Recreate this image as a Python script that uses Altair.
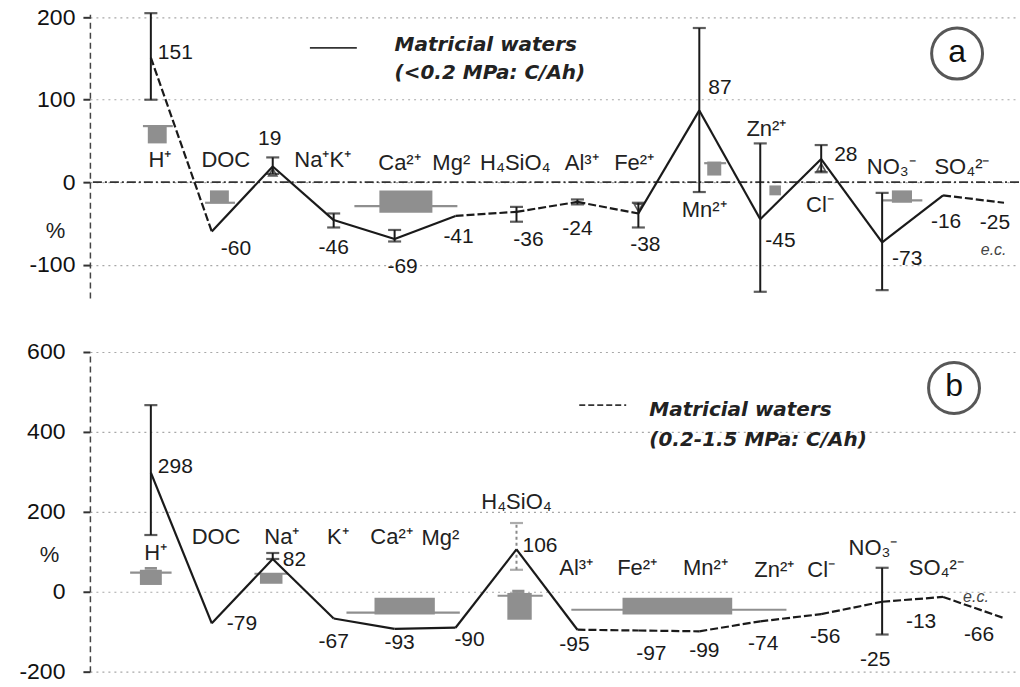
import altair as alt
import pandas as pd

# ---------------- data ----------------
# relative change (%) of each species, panel a and panel b
change_a = [151, -60, 19, -46, -69, -41, -36, -24, -38, 87, -45, 28, -73, -16, -25]
change_b = [298, -79, 82, -67, -93, -90, 106, -95, -97, -99, -74, -56, -25, -13, -66]

# error bars: species index, low, high
err_a_idx = [0, 2, 3, 4, 6, 7, 8, 9, 10, 11, 12]
err_a_lo = [100, 10, -55, -72, -48, -27, -55, -12, -133, 12, -131]
err_a_hi = [205, 30, -38, -58, -30, -21, -25, 187, 47, 45, -13]
err_b_idx = [0, 2, 6, 12]
err_b_lo = [142, 82, 55, -107]
err_b_hi = [467, 97, 172, 60]

# open triangle markers under some points of panel a: species index, value, shape
tri_a_idx = [2, 8, 11]
tri_a_v = [12, -31, 18]
tri_a_shape = ["triangle-up", "triangle-down", "triangle-up"]

# grey reference blocks: x from/to (species index units), value low/high
blk_a_x0 = [-0.05, 0.97, 3.75, 9.13, 10.15, 12.16]
blk_a_x1 = [0.26, 1.28, 4.62, 9.36, 10.34, 12.49]
blk_a_lo = [47, -25, -37, 8, -16, -25]
blk_a_hi = [69, -10, -10, 25, -4, -10]
brim_a_x0 = [-0.13, 0.89, 3.34, 9.08, 12.0]
brim_a_x1 = [0.36, 1.38, 5.03, 9.44, 12.66]
brim_a_v = [68, -25, -29, 23, -22]

blk_b_x0 = [-0.18, 1.79, 3.67, 5.85, 7.74, -0.1, 5.93]
blk_b_x1 = [0.18, 2.16, 4.66, 6.25, 9.54, 0.1, 6.13]
blk_b_lo = [17, 20, -57, -70, -57, 55, -3]
blk_b_hi = [55, 47, -15, -3, -15, 62, 5]
brim_b_x0 = [-0.34, 1.7, 3.21, 5.69, 6.9]
brim_b_x1 = [0.34, 2.25, 5.07, 6.43, 10.43]
brim_b_v = [48, 45, -52, -10, -45]

# species names written on each panel
names_a = ["H⁺", "DOC", "Na⁺K⁺", "Ca²⁺", "Mg²", "H₄SiO₄", "Al³⁺", "Fe²⁺",
           "Mn²⁺", "Zn²⁺", "Cl⁻", "NO₃⁻", "SO₄²⁻", "e.c."]
names_b = ["H⁺", "DOC", "Na⁺", "K⁺", "Ca²⁺", "Mg²", "H₄SiO₄", "Al³⁺", "Fe²⁺",
           "Mn²⁺", "Zn²⁺", "Cl⁻", "NO₃⁻", "SO₄²⁻", "e.c."]

# ---------------- placement ----------------
names_a_x = [0.15, 1.23, 2.82, 4.08, 4.93, 5.98, 7.07, 7.93, 9.08, 10.1, 10.98, 12.15, 13.31, 13.83]
names_a_y = [27, 27, 27, 23, 23, 23, 23, 23, -34, 65, -28, 18, 18, -82]
names_b_x = [0.08, 1.07, 2.15, 3.07, 3.95, 4.75, 6.0, 6.98, 7.98, 9.1, 10.23, 11.0, 11.85, 12.89, 13.54]
names_b_y = [97, 137, 137, 137, 137, 135, 225, 60, 60, 60, 55, 55, 110, 60, -12]

# value-label pixel offsets from each point (dx, dy, align)
lab_a_dx = [7, 9, -3, 0, 8, 3, 12, 0, 7, 9, 5, 13, 10, 3, -9]
lab_a_dy = [-5, 17, -28, 28, 28, 21, 28, 27, 32, -22, 22, -4, 17, 27, 20]
lab_a_al = ["left", "left", "center", "center", "center", "center", "center", "center",
            "center", "left", "left", "left", "left", "center", "center"]
lab_b_dx = [7, 15, 10, 0, 5, 14, 6, -3, 13, 5, 3, 4, -7, -22, -25]
lab_b_dy = [-6, 1, 1, 23, 14, 12, -3, 15, 24, 20, 23, 23, 58, 25, 17]
lab_b_al = ["left", "left", "left", "center", "center", "center", "left", "center",
            "center", "center", "center", "center", "center", "center", "center"]

dash_a = [1, 0, 0, 0, 0, 1, 1, 1, 0, 0, 0, 0, 0, 1]
dash_b = [0, 0, 0, 0, 0, 0, 0, 1, 1, 1, 1, 1, 1, 1]

W = 930
X_DOM = [-1, 14.246]
H_A, Y_DOM_A = 284, [-140.6, 203.6]
H_B, Y_DOM_B = 320, [-200, 600]
PX_X = W / (X_DOM[1] - X_DOM[0])

FONT = "Liberation Sans"
GREY = "#8f8f8f"
INK = "#1a1a1a"


def build_panel(vals, names, nx, ny, ldx, ldy, lal, dashed, e_idx, e_lo, e_hi,
                bx0, bx1, blo, bhi, rx0, rx1, rv, height, ydom, ticks,
                legend_sub, legend_dash, legend_xy, letter, letter_xy, pct_y, pct_x,
                zero_line, e_styles, label_pad, tri=None):
    px_y = height / (ydom[1] - ydom[0])
    xs = alt.Scale(domain=X_DOM, nice=False, zero=False)
    ys = alt.Scale(domain=ydom, nice=False, zero=False)

    yaxis = alt.Axis(
        values=ticks, labelExpr="datum.value + ''", labelFont=FONT, labelFontSize=23,
        labelColor="#111", labelPadding=label_pad, tickSize=7, tickColor="#333", tickWidth=2,
        domainColor="#444", domainDash=[6, 4], domainWidth=1.5,
        grid=True, gridDash=[2, 4], gridColor="#a8a8a8", gridWidth=1.2,
        title="%", titleAngle=0, titleX=pct_x, titleY=pct_y, titleAlign="center",
        titleBaseline="middle", titleFont=FONT, titleFontSize=22, titleFontWeight="normal",
        titleColor="#222", minExtent=90, maxExtent=90,
    )

    def X(f):
        return alt.X(f, type="quantitative", scale=xs, axis=None)

    def Y(f):
        return alt.Y(f, type="quantitative", scale=ys, axis=yaxis)

    n = len(vals)
    pts = pd.DataFrame({"x": list(range(n)), "v": vals})

    layers = [alt.Chart(pts).mark_point(opacity=0).encode(x=X("x"), y=Y("v"))]

    if zero_line:
        zl = alt.Chart(pd.DataFrame({"v": [0]})).mark_rule(
            color="#333", strokeWidth=1.6, strokeDash=[9, 3, 2, 3]).encode(y=Y("v"))
        layers.append(zl)

    # grey blocks and brims
    blk = pd.DataFrame({"x0": bx0, "x1": bx1, "v": blo, "hi": bhi})
    layers.append(alt.Chart(blk).mark_rect(color=GREY).encode(
        x=X("x0"), x2="x1:Q", y=Y("v"), y2="hi:Q"))
    brim = pd.DataFrame({"x0": rx0, "x1": rx1, "v": rv})
    layers.append(alt.Chart(brim).mark_rule(color=GREY, strokeWidth=2.2).encode(
        x=X("x0"), x2="x1:Q", y=Y("v")))

    # error bars
    col = alt.Color("s:N", scale=alt.Scale(domain=["k", "g"], range=[INK, "#8a8a8a"]), legend=None)
    eb = pd.DataFrame({"x": e_idx, "v": e_lo, "hi": e_hi, "s": e_styles})
    layers.append(alt.Chart(eb[eb["s"] == "k"]).mark_rule(strokeWidth=2, color=INK).encode(
        x=X("x"), y=Y("v"), y2="hi:Q"))
    if (eb["s"] == "g").any():
        layers.append(alt.Chart(eb[eb["s"] == "g"]).mark_rule(
            strokeWidth=2, color="#8a8a8a", strokeDash=[3, 3]).encode(x=X("x"), y=Y("v"), y2="hi:Q"))
    caps = pd.DataFrame({"x": e_idx * 2, "v": e_lo + e_hi, "s": e_styles * 2})
    layers.append(alt.Chart(caps).mark_point(shape="stroke", size=170, strokeWidth=2.2, filled=False).encode(
        x=X("x"), y=Y("v"), color=col))

    if tri is not None:
        tdf = pd.DataFrame({"x": tri[0], "v": tri[1], "sh": tri[2]})
        layers.append(alt.Chart(tdf).mark_point(filled=False, size=70, strokeWidth=1.6, color=INK).encode(
            x=X("x"), y=Y("v"),
            shape=alt.Shape("sh:N", scale=alt.Scale(domain=["triangle-up", "triangle-down"],
                                                    range=["triangle-up", "triangle-down"]), legend=None)))

    # connecting line, segment by segment (solid and dashed stretches)
    seg = pd.DataFrame({
        "x": list(range(n - 1)), "x2": list(range(1, n)),
        "v": vals[:-1], "v2": vals[1:],
        "d": dashed,
    })
    layers.append(alt.Chart(seg[seg["d"] == 0]).mark_rule(color=INK, strokeWidth=2.2).encode(
        x=X("x"), x2="x2:Q", y=Y("v"), y2="v2:Q"))
    layers.append(alt.Chart(seg[seg["d"] == 1]).mark_rule(
        color=INK, strokeWidth=2.2, strokeDash=[8, 3]).encode(
        x=X("x"), x2="x2:Q", y=Y("v"), y2="v2:Q"))

    # value labels
    lab = pd.DataFrame({
        "x": [i + d / PX_X for i, d in enumerate(ldx)],
        "v": [vals[i] - ldy[i] / px_y for i in range(n)],
        "t": [str(v) for v in vals],
        "al": lal,
    })
    for al in ["left", "center"]:
        layers.append(alt.Chart(lab[lab["al"] == al]).mark_text(
            font=FONT, fontSize=21, color=INK, align=al, baseline="middle").encode(
            x=X("x"), y=Y("v"), text="t:N"))

    # species names
    nm = pd.DataFrame({"x": nx, "v": ny, "t": names})
    big = nm[nm["t"] != "e.c."]
    small = nm[nm["t"] == "e.c."]
    layers.append(alt.Chart(big).mark_text(
        font=FONT, fontSize=22, color="#222", align="center", baseline="middle").encode(
        x=X("x"), y=Y("v"), text="t:N"))
    layers.append(alt.Chart(small).mark_text(
        font=FONT, fontSize=16, color="#444", align="center", baseline="middle", fontStyle="italic").encode(
        x=X("x"), y=Y("v"), text="t:N"))

    # legend entry
    (lx0, lx1, lv, tx, tv1, tv2) = legend_xy
    layers.append(alt.Chart(pd.DataFrame({"x": [lx0], "x2": [lx1], "v": [lv]})).mark_rule(
        color="#333", strokeWidth=1.8, strokeDash=legend_dash).encode(x=X("x"), x2="x2:Q", y=Y("v")))
    leg = pd.DataFrame({"x": [tx, tx], "v": [tv1, tv2], "t": ["Matricial waters", legend_sub]})
    layers.append(alt.Chart(leg).mark_text(
        font="DejaVu Sans", fontSize=20, fontStyle="italic", fontWeight="bold", color="#222",
        align="left", baseline="middle").encode(x=X("x"), y=Y("v"), text="t:N"))

    # panel letter in a circle
    lt = pd.DataFrame({"x": [letter_xy[0]], "v": [letter_xy[1]], "t": [letter]})
    layers.append(alt.Chart(lt).mark_point(shape="circle", size=2600, filled=False,
                                          stroke="#111", strokeWidth=3).encode(x=X("x"), y=Y("v")))
    layers.append(alt.Chart(lt).mark_text(font=FONT, fontSize=32, color="#111", baseline="middle",
                                         dy=-2).encode(x=X("x"), y=Y("v"), text="t:N"))

    return alt.layer(*layers).properties(width=W, height=height)


panel_a = build_panel(
    change_a, names_a, names_a_x, names_a_y, lab_a_dx, lab_a_dy, lab_a_al, dash_a,
    err_a_idx, err_a_lo, err_a_hi, blk_a_x0, blk_a_x1, blk_a_lo, blk_a_hi,
    brim_a_x0, brim_a_x1, brim_a_v, H_A, Y_DOM_A, [-100, 0, 100, 200],
    "(<0.2 MPa: C/Ah)", [1, 0], (2.61, 3.38, 163, 4.0, 166, 132),
    "a", (13.23, 156), 216, -35, True, ["k"] * len(err_a_idx), 8,
    tri=(tri_a_idx, tri_a_v, tri_a_shape))

panel_b = build_panel(
    change_b, names_b, names_b_x, names_b_y, lab_b_dx, lab_b_dy, lab_b_al, dash_b,
    err_b_idx, err_b_lo, err_b_hi, blk_b_x0, blk_b_x1, blk_b_lo, blk_b_hi,
    brim_b_x0, brim_b_x1, brim_b_v, H_B, Y_DOM_B, [-200, 0, 200, 400, 600],
    "(0.2-1.5 MPa: C/Ah)", [6, 3], (7.03, 7.8, 467, 8.18, 455, 380),
    "b", (13.18, 510), 203, -41, False, ["k", "k", "g", "k"], 18)

chart = alt.vconcat(panel_a, panel_b, spacing=43).properties(
    padding={"left": 0, "top": 5, "right": 0, "bottom": 0},
    background="white",
).configure_view(stroke=None)

chart.save("out.html", embed_options={"renderer": "svg", "actions": False})
